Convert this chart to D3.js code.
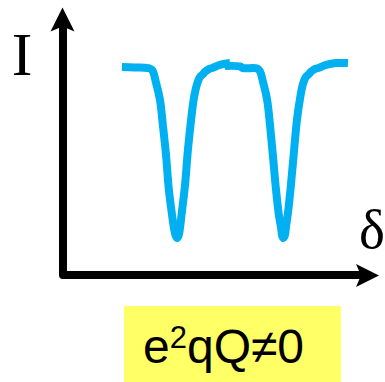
<!DOCTYPE html>
<html>
<head>
<meta charset="utf-8">
<script src="https://cdn.jsdelivr.net/npm/d3@7"></script>
<style>
  html, body { margin: 0; padding: 0; background: #fff; }
  svg { display: block; }
</style>
</head>
<body>
<script>
// Spectrum drawn as two overlapping traces
const trace1Delta = [1.86, 2.27, 2.68, 2.81, 2.93, 3.06, 3.15, 3.25, 3.34, 3.44, 3.50, 3.55, 3.60, 3.65,
                     3.69, 3.75, 3.85, 3.94, 4.04, 4.13, 4.23, 4.32, 4.42, 4.48, 4.60, 4.73, 4.95, 5.27];
const trace1I     = [0.995, 0.993, 0.990, 0.981, 0.923, 0.837, 0.718, 0.574, 0.407, 0.287, 0.225, 0.190, 0.177, 0.190,
                     0.225, 0.301, 0.431, 0.598, 0.742, 0.847, 0.914, 0.947, 0.962, 0.972, 0.985, 0.992, 1.005, 1.014];

const trace2Delta = [5.11, 5.58, 5.68, 6.12, 6.21, 6.31, 6.44, 6.53, 6.62, 6.72, 6.81, 6.88, 6.91, 6.95, 7.00,
                     7.03, 7.10, 7.19, 7.29, 7.38, 7.48, 7.57, 7.66, 7.76, 7.82, 7.94, 8.08, 8.30, 8.61, 8.99];
const trace2I     = [1.000, 0.998, 0.990, 0.988, 0.976, 0.923, 0.837, 0.718, 0.574, 0.407, 0.287, 0.225, 0.190, 0.177, 0.190,
                     0.225, 0.301, 0.431, 0.598, 0.742, 0.847, 0.914, 0.947, 0.962, 0.972, 0.985, 0.992, 1.005, 1.014, 1.014];

const xLabel = "δ";
const yLabel = "I";
const caption = { base: "e", sup: "2", rest: "qQ≠0" };

const W = 385, H = 382;

const svg = d3.select("body")
  .append("svg")
  .attr("width", W)
  .attr("height", H);

// scales: axis origin at bottom-left, arrow tips at the domain ends
const x = d3.scaleLinear().domain([0, 10]).range([63, 380]);
const y = d3.scaleLinear().domain([0, 1]).range([275, 66]);
const yTop = 1.28;

// axes (thick black lines with arrow heads)
svg.append("path")
  .attr("d", d3.line()([[x(0), y(yTop) + 14], [x(0), y(0)], [x(10) - 10, y(0)]]))
  .attr("fill", "none")
  .attr("stroke", "#000")
  .attr("stroke-width", 8)
  .attr("stroke-linejoin", "round")
  .attr("stroke-linecap", "butt");

// up arrow
const tx = x(0) - 0.5, ty = y(yTop);
svg.append("path")
  .attr("d", `M${tx},${ty} L${tx + 12},${ty + 24} L${tx},${ty + 19} L${tx - 12},${ty + 24} Z`)
  .attr("fill", "#000");

// right arrow
const rx = x(10) - 1, ry = y(0) + 0.5;
svg.append("path")
  .attr("d", `M${rx},${ry} L${rx - 23},${ry + 11.5} L${rx - 18},${ry} L${rx - 23},${ry - 11.5} Z`)
  .attr("fill", "#000");

// axis labels
svg.append("text")
  .attr("x", 22)
  .attr("y", 75)
  .attr("text-anchor", "middle")
  .attr("font-family", "'Liberation Serif', 'Times New Roman', serif")
  .attr("font-size", 62)
  .text(yLabel);

svg.append("text")
  .attr("x", 372)
  .attr("y", 248)
  .attr("text-anchor", "middle")
  .attr("font-family", "'Liberation Serif', 'Times New Roman', serif")
  .attr("font-size", 55)
  .text(xLabel);

// spectrum traces
const line = d3.line()
  .x(d => x(d[0]))
  .y(d => y(d[1]))
  .curve(d3.curveCatmullRom.alpha(0.5));

[[trace1Delta, trace1I], [trace2Delta, trace2I]].forEach(([xs, ys]) => {
  svg.append("path")
    .datum(xs.map((v, i) => [v, ys[i]]))
    .attr("fill", "none")
    .attr("stroke", "#00B0F0")
    .attr("stroke-width", 8)
    .attr("stroke-linejoin", "round")
    .attr("d", line);
});

// caption box
svg.append("rect")
  .attr("x", 124)
  .attr("y", 306)
  .attr("width", 217)
  .attr("height", 80)
  .attr("fill", "#FFFF66");

const cap = svg.append("text")
  .attr("x", 143)
  .attr("y", 363)
  .attr("font-family", "'Liberation Sans', Arial, sans-serif")
  .attr("font-size", 48)
  .attr("fill", "#000");
cap.append("tspan").text(caption.base);
cap.append("tspan").attr("font-size", 31).attr("dy", -15).text(caption.sup);
cap.append("tspan").attr("dy", 15).text(caption.rest);
</script>
</body>
</html>
